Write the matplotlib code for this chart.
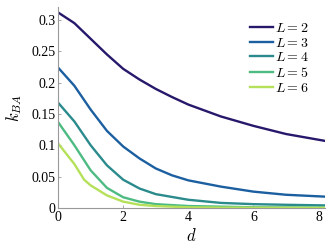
import matplotlib
matplotlib.use("Agg")
import matplotlib.pyplot as plt

plt.rcParams['font.family'] = ['Liberation Serif', 'DejaVu Serif']
plt.rcParams['mathtext.fontset'] = 'cm'

d_L2 = [0, 0.5, 1, 1.5, 2, 2.5, 3, 3.5, 4, 5, 6, 7, 8.2]
k_L2 = [0.312, 0.295, 0.27, 0.245, 0.222, 0.205, 0.19, 0.177, 0.165, 0.146, 0.131, 0.118, 0.107]

d_L3 = [0, 0.5, 1, 1.5, 2, 2.5, 3, 3.5, 4, 5, 6, 7, 8.2]
k_L3 = [0.224, 0.195, 0.157, 0.123, 0.098, 0.079, 0.063, 0.052, 0.044, 0.034, 0.026, 0.021, 0.018]

d_L4 = [0, 0.5, 1, 1.5, 2, 2.5, 3, 4, 5, 6, 7, 8.2]
k_L4 = [0.168, 0.138, 0.1, 0.068, 0.045, 0.031, 0.022, 0.013, 0.008, 0.006, 0.005, 0.004]

d_L5 = [0, 0.5, 1, 1.5, 2, 2.5, 3, 4, 5, 6, 8.2]
k_L5 = [0.137, 0.1, 0.06, 0.032, 0.017, 0.01, 0.006, 0.003, 0.002, 0.001, 0.0005]

d_L6 = [0, 0.5, 0.8, 1, 1.5, 2, 2.5, 3, 4, 5, 8.2]
k_L6 = [0.103, 0.07, 0.045, 0.036, 0.02, 0.01, 0.005, 0.003, 0.001, 0.0005, 0.0]

labels = ['$L=2$', '$L=3$', '$L=4$', '$L=5$', '$L=6$']
colors = ['#27186b', '#1b5fa0', '#2a8a8c', '#4dbb82', '#b5e05a']

fig = plt.figure(figsize=(3.32, 2.49), dpi=100)
ax = fig.add_axes([0.175, 0.165, 0.804, 0.805])

series = [(d_L2, k_L2), (d_L3, k_L3), (d_L4, k_L4), (d_L5, k_L5), (d_L6, k_L6)]
for (x, y), lab, c in zip(series, labels, colors):
    ax.plot(x, y, color=c, lw=1.7, label=lab)

ax.set_xlim(0, 8.2)
ax.set_ylim(0, 0.32)
ax.set_xticks([0, 2, 4, 6, 8])
ax.set_yticks([0, 0.05, 0.1, 0.15, 0.2, 0.25, 0.3])
ax.set_yticklabels(['0', '0.05', '0.1', '0.15', '0.2', '0.25', '0.3'])
for s in ['top', 'right']:
    ax.spines[s].set_visible(False)
for s in ['left', 'bottom']:
    ax.spines[s].set_color('#999999')
    ax.spines[s].set_linewidth(0.8)
ax.tick_params(direction='in', length=2.5, width=0.6, color='#999999', labelsize=10, pad=2)
ax.set_xlabel('$d$', fontsize=12, labelpad=3)
ax.set_ylabel('$k_{BA}$', fontsize=12, labelpad=5)
leg = ax.legend(loc='upper right', frameon=False, fontsize=10, handlelength=1.7,
                handletextpad=0.1, labelspacing=0.12, bbox_to_anchor=(0.985, 0.99))

fig.savefig('out.png', dpi=100)
